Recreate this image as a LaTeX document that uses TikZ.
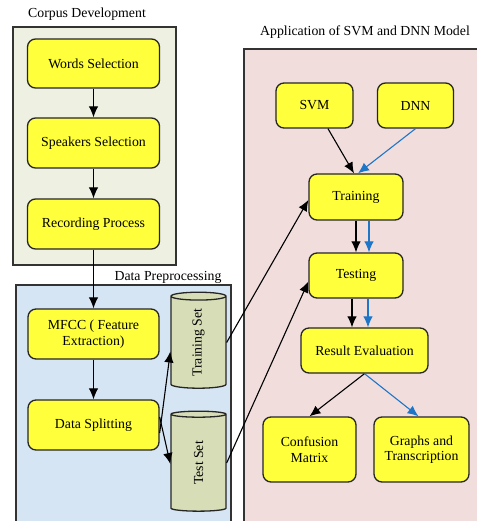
\documentclass[tikz,border=0pt]{standalone}
\usepackage{fontspec}
\setmainfont{Liberation Serif}
\usetikzlibrary{shapes.geometric,arrows.meta,positioning}

\definecolor{corpusbg}{RGB}{238,240,226}
\definecolor{prepbg}{RGB}{214,229,244}
\definecolor{appbg}{RGB}{242,221,221}
\definecolor{procyel}{RGB}{255,255,60}
\definecolor{setfill}{RGB}{215,221,182}
\definecolor{modelblue}{RGB}{30,118,200}

\begin{document}
\begin{tikzpicture}[x=1pt, y=-1pt,
    font=\fontsize{13.8}{15.5}\selectfont,
    flow/.style={-{Latex[length=11pt,width=9.5pt]}, line width=1.1pt},
    proc/.style={draw=black!85, line width=1.3pt, fill=procyel, rounded corners=8pt, align=center, inner sep=2pt},
    dataset/.style={cylinder, shape border rotate=90, aspect=0.65, draw=black!85, line width=1.3pt, fill=setfill, minimum width=55pt, inner sep=0pt},
    group/.style={draw=black!80, line width=1.1pt},
    title/.style={inner sep=0pt}]
    \useasboundingbox (0,0) rectangle (476,521);
    % groups
    \draw[group, fill=corpusbg] (13,27) rectangle (176,265);
    \draw[group, fill=prepbg] (16,285) rectangle (231,530);
    \draw[group, fill=appbg] (244,49) rectangle (490,530);
    \node[title] (t_corpus) at (87,14) {Corpus Development};
    \node[title] (t_prep) at (168,277) {Data Preprocessing};
    \node[title] (t_app) at (365,32) {Application of SVM and DNN Model};
    % corpus development
    \node[proc, minimum width=132pt, minimum height=49pt] (w_sel) at (93.5,63.5) {Words Selection};
    \node[proc, minimum width=132pt, minimum height=50pt] (s_sel) at (93.5,143) {Speakers Selection};
    \node[proc, minimum width=132pt, minimum height=50pt] (rec) at (93.5,224) {Recording Process};
    % data preprocessing
    \node[proc, minimum width=131pt, minimum height=50pt] (mfcc) at (93.5,334) {MFCC ( Feature\\Extraction)};
    \node[proc, minimum width=131pt, minimum height=50pt] (split) at (93.5,425) {Data Splitting};
    \node[dataset, minimum height=96pt] (set_tr) at (198.5,342.5) {\rotatebox{90}{Training Set}};
    \node[dataset, minimum height=100pt] (set_te) at (198.5,463) {\rotatebox{90}{Test Set}};
    % models
    \node[proc, minimum width=77pt, minimum height=45pt] (svm) at (314.5,105.5) {SVM};
    \node[proc, minimum width=76pt, minimum height=45pt] (dnn) at (415.5,105.5) {DNN};
    \node[proc, minimum width=94pt, minimum height=46pt] (train) at (356,197) {Training};
    \node[proc, minimum width=94pt, minimum height=45pt] (test) at (356,275.5) {Testing};
    \node[proc, minimum width=127pt, minimum height=45pt] (eval) at (364.5,350.5) {Result Evaluation};
    \node[proc, minimum width=93pt, minimum height=65pt] (conf) at (309.5,449.5) {Confusion\\Matrix};
    \node[proc, minimum width=95pt, minimum height=65pt] (graph) at (421.5,449.5) {Graphs and\\Transcription};
    \path[flow]
    (w_sel) edge (s_sel)
    (s_sel) edge (rec)
    (rec) edge (mfcc)
    (mfcc) edge (split)
    ([yshift=-8pt]split.east) edge ([yshift=-9pt]set_tr.west)
    ([yshift=8pt]split.east) edge ([yshift=-1pt]set_te.west)
    (set_tr.east) edge ([yshift=-3pt]train.west)
    (set_te.east) edge ([yshift=-6pt]test.west)
    (svm) edge ([xshift=-2pt]train.north)
    (train) edge (test)
    ([xshift=-4pt]test.south) edge ([xshift=-4pt]test.south |- eval.north)
    (eval.south) edge (conf.north);
    % blue path (DNN)
    \path[flow, modelblue]
    (dnn.south) edge ([xshift=2pt]train.north)
    ([xshift=13pt]train.south) edge ([xshift=13pt]test.north)
    ([xshift=12pt]test.south) edge ([xshift=12pt]test.south |- eval.north)
    (eval.south) edge ([xshift=-3pt]graph.north);
\end{tikzpicture}
\end{document}
